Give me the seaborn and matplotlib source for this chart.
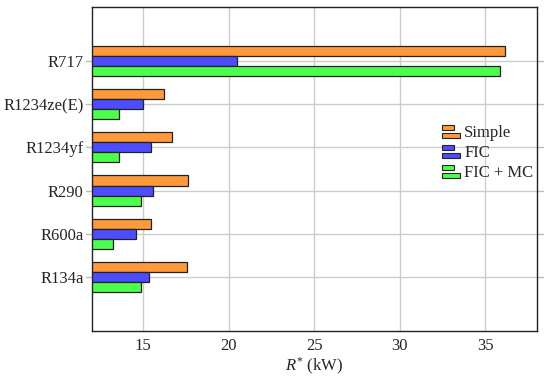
import pandas as pd
import seaborn as sns
import matplotlib.pyplot as plt
from matplotlib.legend_handler import HandlerBase
from matplotlib.patches import Rectangle, Patch

# refrigerants, top to bottom as drawn
refrigerants = ['R717', 'R1234ze(E)', 'R1234yf', 'R290', 'R600a', 'R134a']
configs = ['Simple', 'FIC', 'FIC + MC']
simple = [36.13, 16.19, 16.71, 17.60, 15.43, 17.55]
fic = [20.48, 15.00, 15.45, 15.57, 14.60, 15.35]
fic_mc = [35.86, 13.58, 13.56, 14.90, 13.26, 14.90]

colors = ['#ff9a3c', '#4d4dff', '#4dff4d']

rows = []
for name, vals in zip(configs, [simple, fic, fic_mc]):
    for ref, v in zip(refrigerants, vals):
        rows.append({'refrigerant': ref, 'config': name, 'R': v})
df = pd.DataFrame(rows)

sns.set_style('white')
plt.rcParams['font.family'] = ['Liberation Serif', 'DejaVu Serif']
plt.rcParams['mathtext.fontset'] = 'custom'
plt.rcParams['mathtext.it'] = 'Liberation Serif:italic'
plt.rcParams['mathtext.rm'] = 'Liberation Serif'


class TwoBarHandler(HandlerBase):
    # pgfplots-like legend image: a short bar on top of a longer one
    def create_artists(self, legend, orig_handle, xdescent, ydescent,
                       width, height, fontsize, trans):
        fc = orig_handle.get_facecolor()
        h = height * 0.42
        r1 = Rectangle((-xdescent, -ydescent + height * 0.58), width * 0.7, h,
                       facecolor=fc, edgecolor='#222222', lw=0.8, transform=trans)
        r2 = Rectangle((-xdescent, -ydescent - height * 0.12), width, h,
                       facecolor=fc, edgecolor='#222222', lw=0.8, transform=trans)
        return [r1, r2]


fig = plt.figure(figsize=(5.5, 3.81), dpi=100)
ax = fig.add_axes([0.167, 0.131, 0.809, 0.851])

sns.barplot(data=df, x='R', y='refrigerant', hue='config', order=refrigerants,
            hue_order=configs, palette=colors, orient='h', width=0.7,
            edgecolor='#222222', linewidth=0.9, saturation=1, ax=ax, legend=False)

ax.set_xlim(12, 38)
ax.set_ylim(5 + 1.25, -1.25)
ax.set_xticks([15, 20, 25, 30, 35])
ax.grid(True, color='#cccccc', linewidth=1.0)
ax.set_axisbelow(True)
ax.tick_params(axis='y', length=0, labelsize=12, pad=6)
ax.tick_params(axis='x', length=0, labelsize=12, pad=5)
ax.set_ylabel('')
ax.set_xlabel('$R^{*}$ (kW)', fontsize=12, labelpad=1)
for s in ax.spines.values():
    s.set_color('#222222')
    s.set_linewidth(1.0)
    s.set_zorder(5)

# short tick marks straddling both vertical spines at category positions
for i in range(len(refrigerants)):
    ax.plot([-0.013, 0.0], [i, i], color='#bbbbbb', lw=1.0,
            transform=ax.get_yaxis_transform(), clip_on=False)
    ax.plot([1.0, 1.015], [i, i], color='#bbbbbb', lw=1.0,
            transform=ax.get_yaxis_transform(), clip_on=False)

handles = [Patch(facecolor=c) for c in colors]
ax.legend(handles, configs, handler_map={Patch: TwoBarHandler()},
          loc='center left', bbox_to_anchor=(0.786, 0.55), frameon=False,
          borderaxespad=0, borderpad=0,
          fontsize=12, handlelength=1.1, handletextpad=0.25, labelspacing=0.25)

fig.savefig('out.png', dpi=100)
